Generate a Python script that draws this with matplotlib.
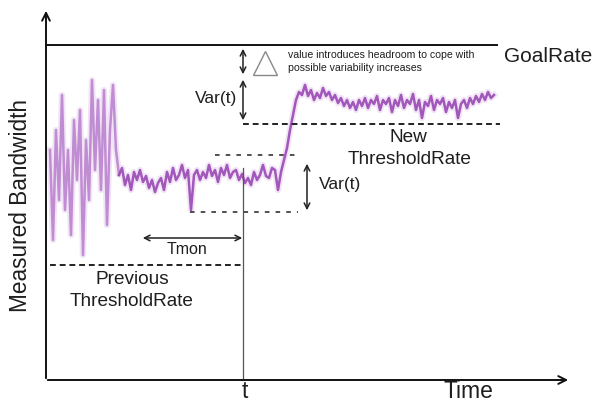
import numpy as np
import matplotlib
matplotlib.use("Agg")
import matplotlib.pyplot as plt

plt.rcParams['font.family'] = ['Liberation Sans', 'DejaVu Sans']

time = np.arange(50, 495, 3)
signal_rows = [
    150, 240, 130, 200, 95, 210, 150, 235, 120, 180, 110, 255, 140, 200, 80, 170,
    100, 190, 90, 225, 130, 85, 150, 175, 168, 185, 175, 190, 172, 180, 170, 182,
    176, 188, 180, 192, 183, 178, 190, 172, 182, 168, 180, 175, 165, 178, 170, 210,
    175, 170, 180, 172, 178, 165, 176, 170, 182, 168, 175, 165, 178, 172, 170, 180,
    174, 183, 178, 185, 172, 180, 175, 165, 176, 178, 168, 170, 190, 172, 160, 148,
    130, 115, 100, 92, 95, 85, 96, 90, 100, 93, 98, 88, 96, 92, 100, 95,
    103, 98, 106, 100, 108, 102, 110, 100, 106, 98, 108, 100, 104, 96, 110, 100,
    104, 98, 112, 100, 106, 95, 108, 100, 104, 94, 110, 100, 118, 102, 106, 96,
    110, 100, 104, 98, 112, 102, 108, 100, 118, 104, 100, 108, 98, 104, 96, 102,
    94, 100, 92, 98, 95,
]
n = min(len(time), len(signal_rows))
time = time[:n]
bandwidth = 380 - np.array(signal_rows[:n])
chaotic_end = 23  # number of samples in the unstable start-up phase

goal_rate = 335
new_threshold = 256
prev_threshold = 115
var_upper = 225
var_lower = 168
t_mark = 243

fig = plt.figure(figsize=(5.96, 4.03), dpi=100)
ax = fig.add_axes([0, 0, 1, 1])
ax.set_xlim(0, 596)
ax.set_ylim(-23, 380)
ax.axis('off')

txt = '#1e1e1e'
purple = '#9a48b4'

# axes with arrows
ax.annotate('', xy=(46, 372), xytext=(46, -1),
            arrowprops=dict(arrowstyle='->', color='#111111', lw=1.4, mutation_scale=14))
ax.annotate('', xy=(571, 0), xytext=(45, 0),
            arrowprops=dict(arrowstyle='->', color='#111111', lw=1.4, mutation_scale=14))

# goal rate line
ax.plot([46, 497], [goal_rate, goal_rate], color='#111111', lw=1.4)

# signal
ax.plot(time, bandwidth, color='#e2c4ec', lw=4.5, alpha=0.45, solid_joinstyle='round')
ax.plot(time[:chaotic_end + 1], bandwidth[:chaotic_end + 1], color='#b070c8', lw=1.8, alpha=0.75)
ax.plot(time[chaotic_end:], bandwidth[chaotic_end:], color=purple, lw=1.8, alpha=0.9)

# dashed threshold lines
ax.plot([243, 500], [new_threshold] * 2, color='#222222', lw=1.4, ls=(0, (3, 2)))
ax.plot([50, 244], [prev_threshold] * 2, color='#222222', lw=1.4, ls=(0, (3, 2)))
ax.plot([215, 298], [var_upper] * 2, color='#222222', lw=1.1, ls=(0, (3, 4)))
ax.plot([190, 298], [var_lower] * 2, color='#222222', lw=1.1, ls=(0, (3, 4)))

# vertical t line
ax.plot([t_mark, t_mark], [212, 0], color='#555555', lw=0.9)

# double arrows
arrow = dict(arrowstyle='<->', color='#222222', lw=1.1, mutation_scale=10)
ax.annotate('', xy=(243, 334), xytext=(243, 303), arrowprops=arrow)
ax.annotate('', xy=(243, 303), xytext=(243, 257), arrowprops=arrow)
ax.annotate('', xy=(307, 219), xytext=(307, 167), arrowprops=arrow)
ax.annotate('', xy=(140, 142), xytext=(245, 142), arrowprops=arrow)

# triangle
ax.plot([265], [317], marker='^', ms=17, mfc='none', mec='#888888', mew=1.0)

# texts
ax.text(288, 325, 'value introduces headroom to cope with', fontsize=7.6, color=txt, va='center')
ax.text(288, 312, 'possible variability increases', fontsize=7.6, color=txt, va='center')
ax.text(504, 324, 'GoalRate', fontsize=15, color=txt, va='center')
ax.text(216, 282, 'Var(t)', fontsize=12.5, color=txt, ha='center', va='center')
ax.text(319, 195, 'Var(t)', fontsize=12.5, color=txt, ha='left', va='center')
ax.text(408, 243, 'New', fontsize=13.7, color=txt, ha='center', va='center')
ax.text(410, 221, 'ThresholdRate', fontsize=13.7, color=txt, ha='center', va='center')
ax.text(187, 130, 'Tmon', fontsize=11.5, color=txt, ha='center', va='center')
ax.text(132, 101, 'Previous', fontsize=13.7, color=txt, ha='center', va='center')
ax.text(132, 79, 'ThresholdRate', fontsize=13.7, color=txt, ha='center', va='center')
ax.text(245, -12, 't', fontsize=16.5, color=txt, ha='center', va='center')
ax.text(468, -12, 'Time', fontsize=16.5, color=txt, ha='center', va='center')
ax.text(21, 175, 'Measured Bandwidth', fontsize=16.3, color=txt, ha='center', va='center', rotation=90)

fig.savefig('out.png', dpi=100)
